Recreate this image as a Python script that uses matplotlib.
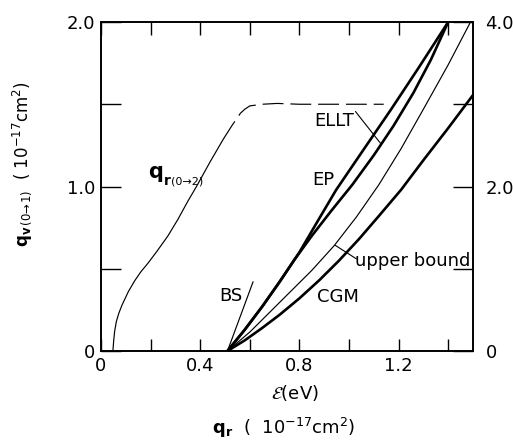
import matplotlib
matplotlib.use("Agg")
import matplotlib.pyplot as plt

plt.rcParams['font.family'] = ['DejaVu Sans']
plt.rcParams['lines.scale_dashes'] = False

# ---- data (energy in eV, q_v in 1e-17 cm^2; right axis = 2x left) ----
qr_x = [0.048, 0.051, 0.055, 0.062, 0.072, 0.085, 0.11, 0.135, 0.16, 0.19,
        0.225, 0.27, 0.31, 0.35, 0.385, 0.44, 0.494, 0.53, 0.562, 0.58,
        0.60, 0.65, 0.71, 0.80, 0.95, 1.14]
qr_y = [0.0, 0.06, 0.12, 0.18, 0.23, 0.28, 0.36, 0.425, 0.48, 0.535,
        0.605, 0.70, 0.80, 0.91, 1.0, 1.15, 1.29, 1.375, 1.445, 1.47,
        1.49, 1.50, 1.505, 1.50, 1.50, 1.50]
qr_solid_n = 17  # points drawn solid; the rest dashed

ep_x = [0.51, 0.58, 0.65, 0.72, 0.80, 0.87, 0.948, 1.05, 1.168, 1.28, 1.40]
ep_y = [0.0, 0.13, 0.27, 0.42, 0.60, 0.78, 0.979, 1.205, 1.465, 1.72, 2.0]

ellt_x = [0.51, 0.58, 0.65, 0.72, 0.78, 0.85, 0.93, 1.013, 1.10, 1.18, 1.26, 1.33, 1.40]
ellt_y = [0.0, 0.13, 0.27, 0.42, 0.555, 0.70, 0.855, 1.01, 1.19, 1.37, 1.57, 1.77, 2.0]

ub_x = [0.51, 0.60, 0.68, 0.76, 0.85, 0.94, 1.03, 1.12, 1.21, 1.30, 1.40, 1.49]
ub_y = [0.0, 0.115, 0.235, 0.355, 0.49, 0.64, 0.815, 1.01, 1.23, 1.47, 1.74, 2.0]

cgm_x = [0.51, 0.58, 0.65, 0.72, 0.80, 0.88, 0.96, 1.04, 1.12, 1.21, 1.30, 1.40, 1.50]
cgm_y = [0.0, 0.065, 0.14, 0.22, 0.32, 0.43, 0.55, 0.68, 0.82, 0.98, 1.16, 1.355, 1.556]

bs_x = [0.51, 0.613]
bs_y = [0.0, 0.42]

x_ticks = [0, 0.2, 0.4, 0.6, 0.8, 1.0, 1.2, 1.4]
x_labels = ['0', '', '0.4', '', '0.8', '', '1.2', '']
yl_ticks = [0, 0.5, 1.0, 1.5, 2.0]
yl_labels = ['0', '', '1.0', '', '2.0']
yr_ticks = [0, 1, 2, 3, 4]
yr_labels = ['0', '', '2.0', '', '4.0']

fig = plt.figure(figsize=(5.13, 4.45), dpi=100)
ax = fig.add_axes([101/513, 1-351/445, 372/513, 329/445])
ax.set_xlim(0, 1.5)
ax.set_ylim(0, 2.0)

thick = 1.9
thin = 0.85
ax.plot(qr_x[:qr_solid_n], qr_y[:qr_solid_n], color='black', lw=thin)
ax.plot(qr_x[qr_solid_n-1:], qr_y[qr_solid_n-1:], color='black', lw=thin,
        dashes=(15, 5))
ax.plot(ep_x, ep_y, color='black', lw=thick)
ax.plot(ellt_x, ellt_y, color='black', lw=thick)
ax.plot(ub_x, ub_y, color='black', lw=thin)
ax.plot(cgm_x, cgm_y, color='black', lw=thick)
ax.plot(bs_x, bs_y, color='black', lw=thin)

fs = 13
ax.text(0.525, 0.337, 'BS', fontsize=fs, ha='center', va='center')
ax.text(0.954, 0.33, 'CGM', fontsize=fs, ha='center', va='center')
ax.text(0.897, 1.04, 'EP', fontsize=fs, ha='center', va='center')
ax.text(0.941, 1.40, 'ELLT', fontsize=fs, ha='center', va='center')
ax.text(1.255, 0.55, 'upper bound', fontsize=fs, ha='center', va='center')
ax.text(0.19, 1.09, 'q', fontsize=15, fontweight='bold', ha='left', va='center')
ax.text(0.252, 1.035, 'r', fontsize=10, fontweight='bold', ha='left', va='center')
ax.text(0.282, 1.03, '(0\u21922)', fontsize=8, ha='left', va='center')
ax.annotate('', xy=(1.131, 1.255), xytext=(1.026, 1.456),
            arrowprops=dict(arrowstyle='-', color='black', lw=0.8,
                            shrinkA=0, shrinkB=0))
ax.annotate('', xy=(0.945, 0.642), xytext=(1.03, 0.560),
            arrowprops=dict(arrowstyle='-', color='black', lw=0.8,
                            shrinkA=0, shrinkB=0))

for s in ax.spines.values():
    s.set_linewidth(1.2)

ax.set_xticks(x_ticks)
ax.set_xticklabels(x_labels)
ax.set_yticks(yl_ticks)
ax.set_yticklabels(yl_labels)
ax.tick_params(axis='x', direction='in', length=9, width=1.0, labelsize=fs,
               pad=4, top=True)
ax.tick_params(axis='y', direction='in', length=14.5, width=1.0, labelsize=fs,
               pad=4)

ax2 = ax.twinx()
ax2.set_ylim(0, 4)
ax2.set_yticks(yr_ticks)
ax2.set_yticklabels(yr_labels)
ax2.tick_params(axis='y', direction='in', length=14.5, width=1.0, labelsize=fs,
                pad=9)
for s in ax2.spines.values():
    s.set_linewidth(1.2)

fig.text(295/513, 1-393/445, r'$\mathcal{E}$(eV)', fontsize=fs,
         ha='center', va='center')
fig.text(284/513, 1-428/445, r'$\mathbf{q}_{\mathbf{r}}$  (  10$^{-17}$cm$^{2}$)',
         fontsize=fs, ha='center', va='center')
fig.text(22/513, 1-164/445,
         r'$\mathbf{q}_{\mathbf{v}\,\mathrm{(0\!\rightarrow\!1)}}$  ( 10$^{-17}$cm$^{2}$)',
         fontsize=12, ha='center', va='center', rotation=90)

fig.savefig('out.png', dpi=100)
